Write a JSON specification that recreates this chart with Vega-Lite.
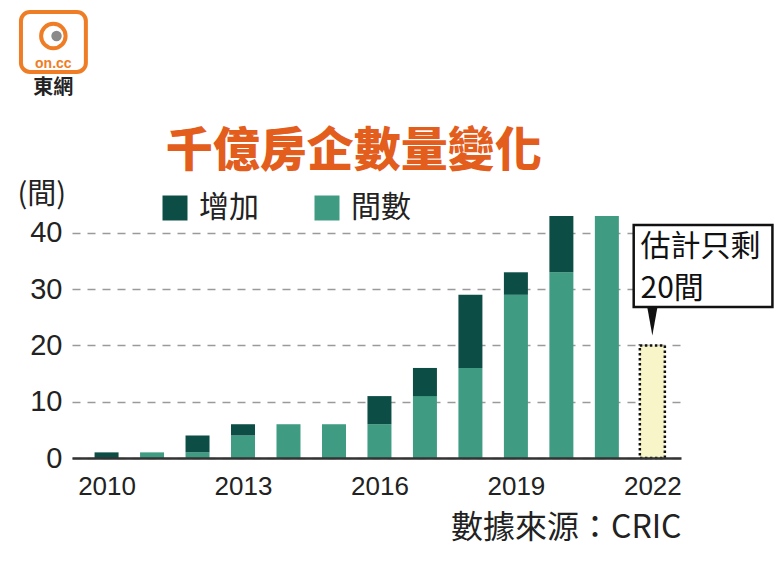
{
  "$schema": "https://vega.github.io/schema/vega-lite/v6.json",
  "width": 609,
  "height": 242,
  "autosize": {"type": "none"},
  "padding": {"left": 72, "top": 216, "right": 99, "bottom": 113},
  "background": "white",
  "config": {"view": {"stroke": null}, "font": "Liberation Sans"},
  "data": {"values": [{}]},
  "datasets": {
    "counts": [
      {"year": 2010, "type": "增加", "value": 1},
      {"year": 2011, "type": "間數", "value": 1},
      {"year": 2012, "type": "間數", "value": 1},
      {"year": 2012, "type": "增加", "value": 3},
      {"year": 2013, "type": "間數", "value": 4},
      {"year": 2013, "type": "增加", "value": 2},
      {"year": 2014, "type": "間數", "value": 6},
      {"year": 2015, "type": "間數", "value": 6},
      {"year": 2016, "type": "間數", "value": 6},
      {"year": 2016, "type": "增加", "value": 5},
      {"year": 2017, "type": "間數", "value": 11},
      {"year": 2017, "type": "增加", "value": 5},
      {"year": 2018, "type": "間數", "value": 16},
      {"year": 2018, "type": "增加", "value": 13},
      {"year": 2019, "type": "間數", "value": 29},
      {"year": 2019, "type": "增加", "value": 4},
      {"year": 2020, "type": "間數", "value": 33},
      {"year": 2020, "type": "增加", "value": 10},
      {"year": 2021, "type": "間數", "value": 43}
    ],
    "estimate": [
      {"year": 2022, "value": 20}
    ]
  },
  "layer": [
    {
      "data": {"name": "counts"},
      "mark": {"type": "bar", "width": 24},
      "encoding": {
        "x": {
          "field": "year",
          "type": "quantitative",
          "scale": {"domain": [2009.35, 2022.52], "nice": false, "zero": false},
          "axis": {
            "values": [2010, 2013, 2016, 2019, 2022],
            "format": "d",
            "labelFont": "Liberation Sans",
            "labelFontSize": 26,
            "labelColor": "#222",
            "labelPadding": 15,
            "labelFlush": false,
            "labelOverlap": false,
            "ticks": false,
            "grid": false,
            "domainColor": "#333",
            "domainWidth": 2.5,
            "title": "數據來源：CRIC",
            "titleFont": "Noto Sans CJK TC",
            "titleFontSize": 32,
            "titleFontWeight": "normal",
            "titleColor": "#222",
            "titleAnchor": "end",
            "titlePadding": 13,
            "zindex": 1
          }
        },
        "y": {
          "field": "value",
          "type": "quantitative",
          "stack": "zero",
          "scale": {"domain": [0, 43], "nice": false},
          "axis": {
            "values": [0, 10, 20, 30, 40],
            "title": "(間)",
            "titleAngle": 0,
            "titleAlign": "left",
            "titleBaseline": "middle",
            "titleX": -55,
            "titleY": -22,
            "titleFont": "Noto Sans CJK TC",
            "titleFontSize": 29,
            "titleFontWeight": "normal",
            "titleColor": "#222",
            "labelFontSize": 29,
            "labelColor": "#222",
            "labelPadding": 10,
            "domain": false,
            "ticks": false,
            "grid": true,
            "gridDash": [8, 7],
            "gridColor": "#9a9a9a",
            "gridWidth": 1.5
          }
        },
        "color": {
          "field": "type",
          "type": "nominal",
          "scale": {"domain": ["增加", "間數"], "range": ["#0C4E45", "#3F9C82"]},
          "legend": {
            "orient": "none",
            "legendX": 88,
            "legendY": -23,
            "direction": "horizontal",
            "title": null,
            "symbolType": "square",
            "symbolSize": 625,
            "symbolStrokeWidth": 0,
            "symbolOpacity": 1,
            "labelFont": "Noto Sans CJK TC",
            "labelFontSize": 30,
            "labelColor": "#222",
            "labelOffset": 9,
            "columnPadding": 53,
            "padding": 0
          }
        },
        "order": {"field": "type", "sort": "descending"}
      }
    },
    {
      "data": {"name": "estimate"},
      "mark": {"type": "bar", "width": 25, "fill": "#F8F5C8", "stroke": "#111", "strokeWidth": 2.5, "strokeDash": [2.5, 2.5]},
      "encoding": {
        "x": {"field": "year", "type": "quantitative"},
        "y": {"field": "value", "type": "quantitative"}
      }
    },
    {
      "mark": {"type": "rect", "fill": "white", "stroke": "#111", "strokeWidth": 2.5},
      "encoding": {
        "x": {"datum": 2021.59, "type": "quantitative"},
        "x2": {"datum": 2024.64},
        "y": {"datum": 41.4, "type": "quantitative"},
        "y2": {"datum": 26.83}
      }
    },
    {
      "mark": {"type": "point", "shape": "M-0.36,-1L0.36,-1L0,1Z", "size": 784, "filled": true, "color": "#111", "opacity": 1},
      "encoding": {
        "x": {"datum": 2022.0, "type": "quantitative"},
        "y": {"datum": 24.25, "type": "quantitative"}
      }
    },
    {
      "mark": {"type": "text", "align": "left", "baseline": "middle", "font": "Noto Sans CJK TC", "fontSize": 30, "color": "#111"},
      "encoding": {
        "x": {"datum": 2021.74, "type": "quantitative"},
        "y": {"datum": 37.5, "type": "quantitative"},
        "text": {"value": "估計只剩"}
      }
    },
    {
      "mark": {"type": "text", "align": "left", "baseline": "middle", "font": "Noto Sans CJK TC", "fontSize": 30, "color": "#111"},
      "encoding": {
        "x": {"datum": 2021.74, "type": "quantitative"},
        "y": {"datum": 30.0, "type": "quantitative"},
        "text": {"value": "20間"}
      }
    },
    {
      "mark": {"type": "text", "align": "left", "baseline": "middle", "font": "Noto Sans CJK TC", "fontSize": 47, "fontWeight": 900, "color": "#E35D1C"},
      "encoding": {
        "x": {"datum": 2011.3, "type": "quantitative"},
        "y": {"datum": 54.3, "type": "quantitative"},
        "text": {"value": "千億房企數量變化"}
      }
    },
    {
      "mark": {"type": "rect", "fill": "white", "stroke": "#EF7D26", "strokeWidth": 4, "cornerRadius": 9},
      "encoding": {
        "x": {"datum": 2008.118, "type": "quantitative"},
        "x2": {"datum": 2009.545},
        "y": {"datum": 79.25, "type": "quantitative"},
        "y2": {"datum": 68.6}
      }
    },
    {
      "mark": {"type": "point", "shape": "circle", "size": 600, "filled": false, "stroke": "#EF7D26", "strokeWidth": 4, "opacity": 1},
      "encoding": {
        "x": {"datum": 2008.83, "type": "quantitative"},
        "y": {"datum": 74.98, "type": "quantitative"}
      }
    },
    {
      "mark": {"type": "point", "shape": "circle", "size": 110, "filled": true, "color": "#8a8a8a", "opacity": 1},
      "encoding": {
        "x": {"datum": 2008.9, "type": "quantitative"},
        "y": {"datum": 74.98, "type": "quantitative"}
      }
    },
    {
      "mark": {"type": "text", "align": "center", "baseline": "middle", "fontSize": 14, "fontWeight": "bold", "color": "#EF7D26"},
      "encoding": {
        "x": {"datum": 2008.83, "type": "quantitative"},
        "y": {"datum": 70.0, "type": "quantitative"},
        "text": {"value": "on.cc"}
      }
    },
    {
      "mark": {"type": "text", "align": "center", "baseline": "middle", "font": "Noto Sans CJK TC", "fontSize": 20, "fontWeight": "bold", "color": "#222"},
      "encoding": {
        "x": {"datum": 2008.83, "type": "quantitative"},
        "y": {"datum": 65.74, "type": "quantitative"},
        "text": {"value": "東網"}
      }
    }
  ]
}
